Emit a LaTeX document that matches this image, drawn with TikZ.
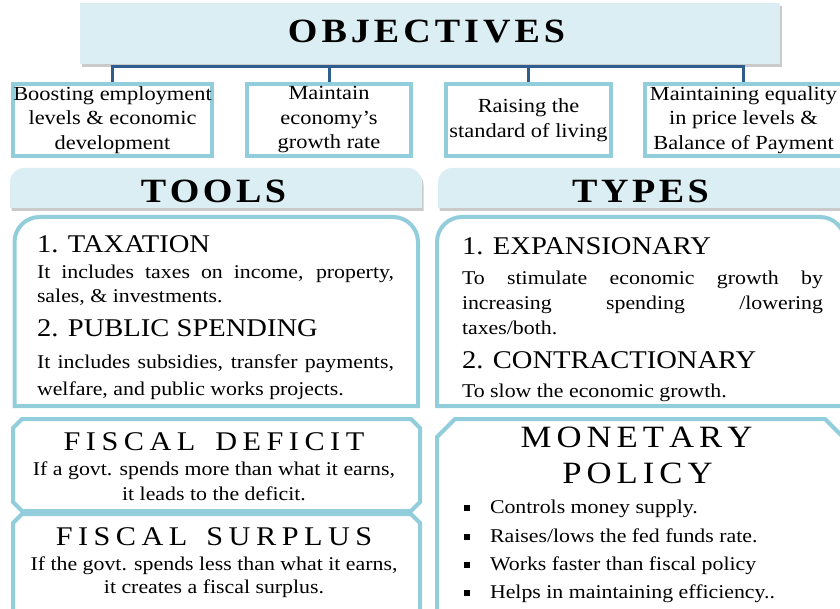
\documentclass[tikz,border=0pt]{standalone}
\usepackage{fontspec}
\setmainfont{Liberation Serif}[FakeStretch=1.12]
\usetikzlibrary{shadows}
\definecolor{hdrblue}{HTML}{DAEEF3}
\definecolor{frameblue}{HTML}{92CDDC}
\definecolor{connblue}{HTML}{2F5D8E}
\setlength\parindent{0pt}

% letter-spaced word: \spreadword{gap}{WORD}
\makeatletter
\newcommand\spreadword[2]{{\def\sw@gap{\kern#1}\@tfor\sw@c:=#2\do{\sw@c\sw@gap}\unkern}}
\makeatother

\tikzset{
  hdr/.style={fill=hdrblue, draw=none},
  shade/.style={drop shadow={shadow xshift=1.5pt, shadow yshift=-3pt, opacity=0.35, fill=black!60}},
  frame/.style={draw=frameblue, line width=4pt, fill=white, line join=miter},
  conn/.style={draw=connblue, line width=3pt},
  lbl/.style={inner sep=0pt, outer sep=0pt, anchor=base},
  lblw/.style={inner sep=0pt, outer sep=0pt, anchor=base west},
  objbox/.style={draw=frameblue, line width=4pt, fill=white, minimum height=72pt,
    inner sep=0pt, align=center, font=\fontsize{20}{24.5}\selectfont},
  bigtitle/.style={font=\fontsize{34}{34}\selectfont\bfseries},
  item/.style={font=\fontsize{25.5}{25.5}\selectfont},
  body/.style={font=\fontsize{19.5}{24}\selectfont},
  sectitle/.style={font=\fontsize{27}{27}\selectfont},
  sectext/.style={font=\fontsize{19.5}{24}\selectfont},
  bullet/.style={fill=black, minimum size=5.5pt, inner sep=0pt},
}

\begin{document}
\begin{tikzpicture}[x=1pt, y=-1pt]
\useasboundingbox (0,0) rectangle (840,609);
\clip (0,0) rectangle (840,609);

% ---------- objectives ----------
\node[hdr, shade, minimum width=700pt, minimum height=61pt, anchor=north west] (obj) at (80,3) {};
\node[lbl, bigtitle] (objt) at (426.5,43) {\spreadword{4pt}{OBJECTIVES}};

\node[objbox, minimum width=197pt] (o1) at (112.5,120) {Boosting employment\\levels \& economic\\development};
\node[objbox, minimum width=164pt] (o2) at (329,120) {Maintain\\economy's\\growth rate};
\node[objbox, minimum width=165pt] (o3) at (528.5,120) {Raising the\\standard of living};
\node[objbox, minimum width=197pt] (o4) at (743.5,120) {Maintaining equality\\in price levels \&\\Balance of Payment};

\coordinate (bus) at ([yshift=-2pt]obj.south);
\draw[conn] (o1.north) -- (o1.north |- bus) -- (o4.north |- bus) -- (o4.north);
\draw[conn] (o2.north) -- (o2.north |- bus);
\draw[conn] (o3.north) -- (o3.north |- bus);

% ---------- section headers ----------
\path[hdr, shade] (10,208) -- (10,182) arc[start angle=180, end angle=90, radius=14pt]
  -- (408,168) arc[start angle=90, end angle=0, radius=14pt] -- (422,208) -- cycle;
\path[hdr, shade] (438,208) -- (438,182) arc[start angle=180, end angle=90, radius=14pt]
  -- (838,168) arc[start angle=90, end angle=0, radius=14pt] -- (852,208) -- cycle;
\node[lbl, bigtitle] (toolst) at (213.5,203) {\spreadword{3.5pt}{TOOLS}};
\node[lbl, bigtitle] (typest) at (640.5,203) {\spreadword{3.5pt}{TYPES}};

% ---------- tools ----------
\path[frame] (14.5,406) -- (14.5,242) arc[start angle=180, end angle=90, radius=25pt]
  -- (393,217) arc[start angle=90, end angle=0, radius=25pt] -- (418,406) -- cycle;
\node[lblw, item] (tax) at (37,253) {1. TAXATION};
\node[lblw, body, text width=357pt, align=justify] (taxd) at (37,279)
  {It includes taxes on income, property,\linebreak sales, \& investments.};
\node[lblw, item] (pub) at (37,337) {2. PUBLIC SPENDING};
\node[lblw, body, font=\fontsize{19.5}{27}\selectfont, text width=357pt, align=justify] (pubd) at (37,368)
  {It includes subsidies, transfer payments,\linebreak welfare, and public works projects.};

% ---------- types ----------
\path[frame] (437,406) -- (437,242) arc[start angle=180, end angle=90, radius=25pt]
  -- (820,217) arc[start angle=90, end angle=0, radius=25pt] -- (845,406) -- cycle;
\node[lblw, item] (exp) at (462,255) {1. EXPANSIONARY};
\node[lblw, body, font=\fontsize{19.5}{25}\selectfont, text width=361pt, align=justify] (expd) at (462,285)
  {To stimulate economic growth by\linebreak increasing spending /lowering\linebreak taxes/both.};
\node[lblw, item] (con) at (462,368) {2. CONTRACTIONARY};
\node[lblw, body] (cond) at (462,397) {To slow the economic growth.};

% ---------- fiscal deficit / surplus ----------
\path[frame] (13,428) -- (22,419) -- (411,419) -- (420,428) -- (420,502) -- (411,511)
  -- (22,511) -- (13,502) -- cycle;
\node[lbl, sectitle] (deft) at (214,450) {\spreadword{5.5pt}{FISCAL}\hspace{20pt}\spreadword{5.5pt}{DEFICIT}};
\node[lbl, sectext] (def1) at (214,475) {If a govt. spends more than what it earns,};
\node[lbl, sectext] (def2) at (214,500) {it leads to the deficit.};

\path[frame] (13,523) -- (22,514) -- (411,514) -- (420,523) -- (420,620) -- (13,620) -- cycle;
\node[lbl, sectitle] (surt) at (214,545) {\spreadword{5.5pt}{FISCAL}\hspace{19pt}\spreadword{5.5pt}{SURPLUS}};
\node[lbl, sectext] (sur1) at (214,570) {If the govt. spends less than what it earns,};
\node[lbl, sectext] (sur2) at (214,593) {it creates a fiscal surplus.};

% ---------- monetary policy ----------
\path[frame] (437,437) -- (455,419) -- (825,419) -- (843,437) -- (843,620) -- (437,620) -- cycle;
\node[lbl, font=\fontsize{31}{31}\selectfont] (mon1) at (636.5,447) {\spreadword{5pt}{MONETARY}};
\node[lbl, font=\fontsize{31}{31}\selectfont] (mon2) at (637.5,483) {\spreadword{5pt}{POLICY}};
\node[bullet] (b1) at (467,508) {};
\node[bullet] (b2) at (467,537) {};
\node[bullet] (b3) at (467,565) {};
\node[bullet] (b4) at (467,593) {};
\node[lblw, sectext] (m1) at (490,513) {Controls money supply.};
\node[lblw, sectext] (m2) at (490,542) {Raises/lows the fed funds rate.};
\node[lblw, sectext] (m3) at (490,570) {Works faster than fiscal policy};
\node[lblw, sectext] (m4) at (490,598) {Helps in maintaining efficiency..};
\end{tikzpicture}
\end{document}
